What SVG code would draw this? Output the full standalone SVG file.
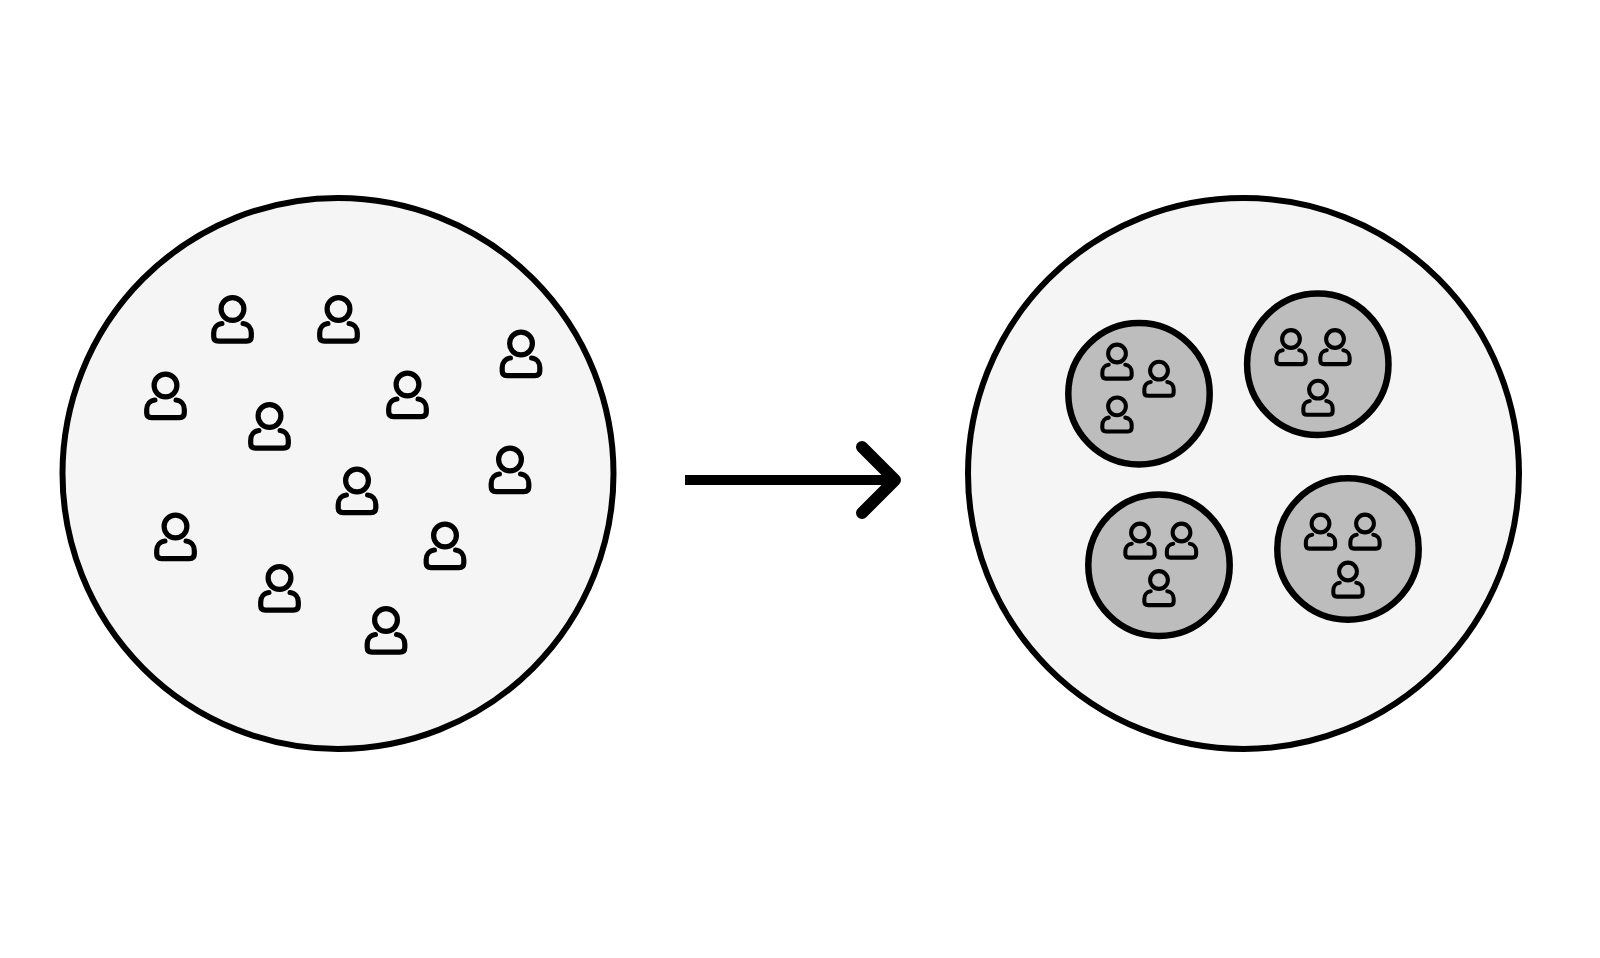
<svg xmlns="http://www.w3.org/2000/svg" xmlns:xlink="http://www.w3.org/1999/xlink" width="1600" height="958" viewBox="0 0 1600 958">
<style>
.big{fill:#f5f5f5;stroke:#000;stroke-width:6}
.small{fill:#bdbdbd;stroke:#000;stroke-width:6.5}
.p{fill:none;stroke:#000;stroke-width:5.2;stroke-linecap:round;stroke-linejoin:round}
.arrow{fill:none;stroke:#000;stroke-width:10}
.head{fill:none;stroke:#000;stroke-width:12;stroke-linecap:round;stroke-linejoin:round}
</style>
<defs>
<g id="person" class="p">
<circle cx="0" cy="0" r="11.4"/>
<path d="M-10.6 14.5C-15.5 15-18.8 19-18.8 24V27.5Q-18.8 32.2-14 32.2H14Q18.8 32.2 18.8 27.5V24C18.8 19 15.5 15 10.6 14.5"/>
</g>
</defs>
<rect width="1600" height="958" fill="#fff"/>
<g id="left-population">
<circle class="big" cx="338" cy="473.5" r="275.5"/>
<use href="#person" x="232.5" y="309"/>
<use href="#person" x="338.5" y="309"/>
<use href="#person" x="521" y="343.5"/>
<use href="#person" x="165.5" y="385.5"/>
<use href="#person" x="269.5" y="416"/>
<use href="#person" x="407.5" y="384.5"/>
<use href="#person" x="357" y="480.5"/>
<use href="#person" x="510" y="459.5"/>
<use href="#person" x="175.5" y="526.5"/>
<use href="#person" x="279.5" y="578"/>
<use href="#person" x="445" y="535.5"/>
<use href="#person" x="386" y="620"/>
</g>
<g id="connectors">
<path class="arrow" d="M685 480H895"/>
<path class="head" d="M862 447L895 480L862 513"/>
</g>
<g id="right-population">
<circle class="big" cx="1243.5" cy="473.5" r="275.5"/>
</g>
<g id="cluster-1">
<circle class="small" cx="1139" cy="393.8" r="70.7"/>
<use href="#person" transform="translate(1117 353.5) scale(.78)"/>
<use href="#person" transform="translate(1159 370.7) scale(.78)"/>
<use href="#person" transform="translate(1117 406.3) scale(.78)"/>
</g>
<g id="cluster-2">
<circle class="small" cx="1317.8" cy="364.3" r="70.7"/>
<use href="#person" transform="translate(1291 339) scale(.78)"/>
<use href="#person" transform="translate(1335 339) scale(.78)"/>
<use href="#person" transform="translate(1318 389.7) scale(.78)"/>
</g>
<g id="cluster-3">
<circle class="small" cx="1159" cy="565.3" r="70.7"/>
<use href="#person" transform="translate(1140 532.5) scale(.78)"/>
<use href="#person" transform="translate(1181.5 532.5) scale(.78)"/>
<use href="#person" transform="translate(1159 580) scale(.78)"/>
</g>
<g id="cluster-4">
<circle class="small" cx="1348" cy="549" r="70.7"/>
<use href="#person" transform="translate(1320.5 523.5) scale(.78)"/>
<use href="#person" transform="translate(1365 523.5) scale(.78)"/>
<use href="#person" transform="translate(1348 571.5) scale(.78)"/>
</g>
</svg>
